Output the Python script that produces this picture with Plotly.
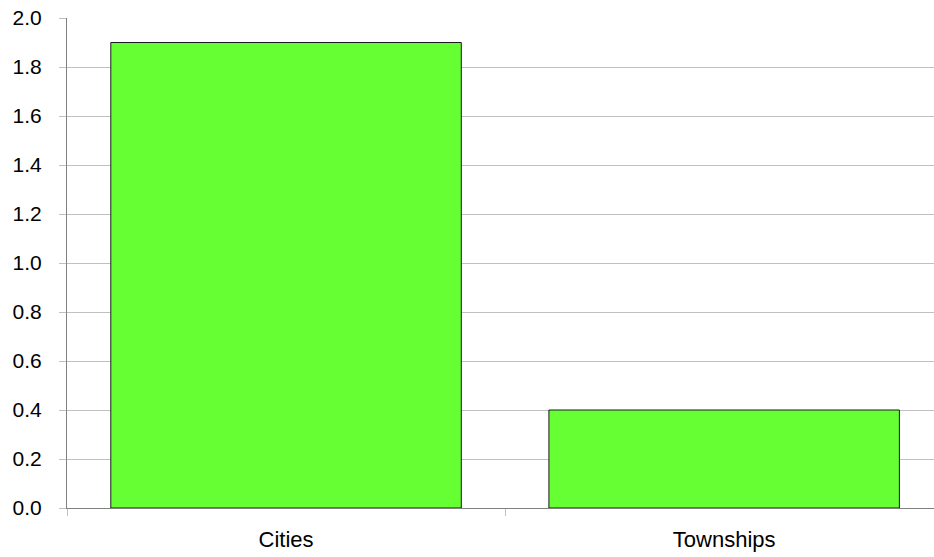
import plotly.graph_objects as go

categories = ["Cities", "Townships"]
values = [1.9, 0.4]
y_ticks = [0.0, 0.2, 0.4, 0.6, 0.8, 1.0, 1.2, 1.4, 1.6, 1.8, 2.0]

fig = go.Figure()
fig.add_trace(go.Bar(
    x=categories, y=values, width=0.8,
    marker=dict(color="#66FF33", line=dict(color="#1a1a1a", width=1)),
))

fig.update_layout(
    width=934, height=557,
    margin=dict(l=67, r=0, t=18, b=49),
    plot_bgcolor="white", paper_bgcolor="white",
    font=dict(family="Liberation Sans, Arial", size=21, color="black"),
    showlegend=False,
)
fig.update_xaxes(
    range=[-0.5, 1.479], tickson="boundaries", ticks="outside", ticklen=7,
    tickcolor="#c0c0c0", showline=True, linecolor="#808080", linewidth=1,
    showgrid=False, tickfont=dict(size=22), ticklabelstandoff=12,
    ticklabeloverflow="allow",
)
fig.update_yaxes(
    range=[0, 2.0], tickvals=y_ticks, ticktext=[f"{v:.1f}" for v in y_ticks],
    ticks="outside", ticklen=7, tickcolor="#c0c0c0",
    showline=True, linecolor="#808080", linewidth=1,
    showgrid=True, gridcolor="#c0c0c0", gridwidth=1, zeroline=False,
    tickfont=dict(size=21), ticklabelstandoff=13, ticklabeloverflow="allow",
)
fig.write_html(
    "out.html",
    config={"displayModeBar": False},
    post_script="document.body.style.margin='0';document.body.style.overflow='hidden';",
)
